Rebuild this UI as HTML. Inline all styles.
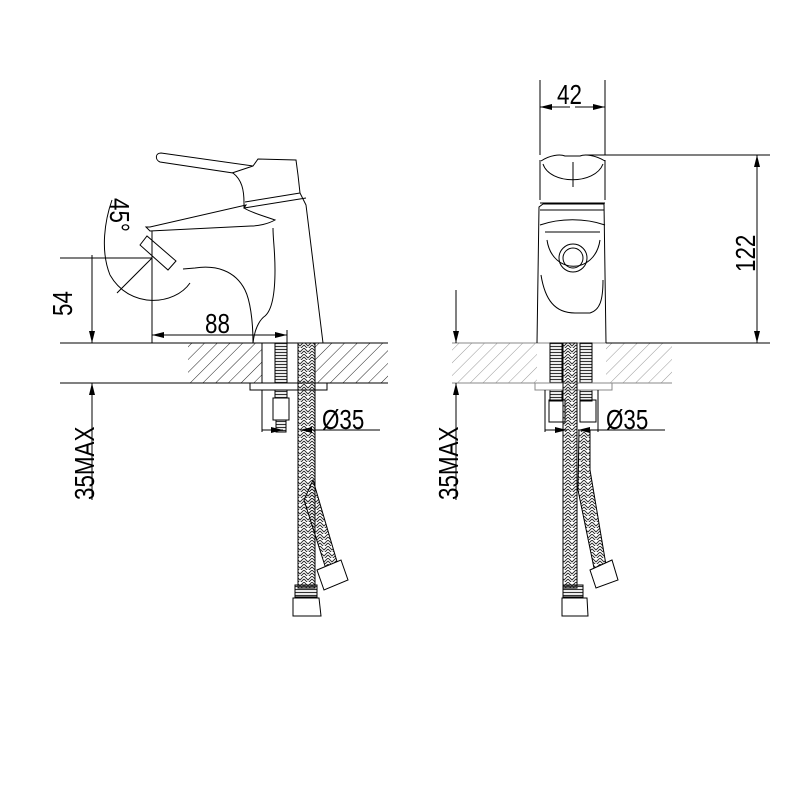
<!DOCTYPE html>
<html><head><style>body{margin:0;background:#fff}svg{display:block}</style></head><body>
<svg width="800" height="800" viewBox="0 0 800 800" xmlns="http://www.w3.org/2000/svg" font-family="Liberation Sans, sans-serif">
<defs>
<pattern id="h" width="9" height="9" patternUnits="userSpaceOnUse" patternTransform="rotate(45)"><line x1="0" y1="0" x2="0" y2="9" stroke="#222" stroke-width="1"/></pattern>
<pattern id="h2" width="9" height="9" patternUnits="userSpaceOnUse" patternTransform="rotate(45)"><line x1="0" y1="0" x2="0" y2="9" stroke="#999" stroke-width="1"/></pattern>
<pattern id="br" width="8" height="6" patternUnits="userSpaceOnUse"><path d="M0 0 L4 4 L8 0 M0 3 L4 7 L8 3" fill="none" stroke="#222" stroke-width="0.9"/></pattern>
<pattern id="th" width="4" height="3" patternUnits="userSpaceOnUse"><line x1="0" y1="1.5" x2="4" y2="1.5" stroke="#333" stroke-width="1.2"/></pattern>
<marker id="a" markerWidth="12" markerHeight="6" refX="12" refY="3" orient="auto" markerUnits="userSpaceOnUse"><path d="M0 0 L12 3 L0 6Z" fill="#000"/></marker>
</defs>
<g stroke="#000" stroke-width="1" fill="none">
<!-- LEFT VIEW counter -->
<rect x="188" y="343" width="74" height="40" fill="url(#h)" stroke="none"/>
<rect x="315" y="343" width="73" height="40" fill="url(#h)" stroke="none"/>
<line x1="60" y1="343" x2="388" y2="343"/>
<line x1="60" y1="383" x2="388" y2="383"/>
<line x1="262" y1="343" x2="262" y2="432"/>
<rect x="275" y="343" width="12" height="55" fill="url(#th)"/>
<rect x="250" y="383" width="77" height="7" fill="#fff"/>
<rect x="273" y="398" width="16" height="22"/>
<rect x="276" y="420" width="10" height="12" fill="url(#th)"/>
<!-- hoses left -->
<rect x="298" y="343" width="17" height="245" fill="url(#br)"/>
<path d="M313 480 L338 565 L326 569 L304 500Z" fill="url(#br)"/>
<rect x="295" y="585" width="22" height="12" fill="url(#th)"/>
<path d="M293 598 L319 598 L321 616 L293 616Z" fill="#fff"/>
<path d="M317 570 L341 560 L348 580 L324 590Z" fill="#fff"/>
<!-- dims left -->
<line x1="92" y1="255" x2="92" y2="343" marker-end="url(#a)"/>
<line x1="92" y1="500" x2="92" y2="383" marker-end="url(#a)"/>
<line x1="60" y1="258" x2="152" y2="258"/>
<line x1="152" y1="258" x2="152" y2="343"/>
<line x1="220" y1="335" x2="152" y2="335" marker-end="url(#a)"/>
<line x1="220" y1="335" x2="287" y2="335" marker-end="url(#a)"/>
<line x1="287" y1="330" x2="287" y2="343"/>
<line x1="262" y1="430" x2="283" y2="430" marker-end="url(#a)"/>
<line x1="380" y1="430" x2="300" y2="430" marker-end="url(#a)"/>
<line x1="315" y1="390" x2="315" y2="432"/>
<!-- faucet left -->
<path d="M253 343 C253 320 250 300 245 290 C235 270 215 265 195 268 L183 269"/>
<path d="M253 343 C255 325 262 318 265 316 C272 310 275 295 275 270 C275 250 273 240 273 228"/>
<path d="M146 227 L150 231 L251 226 C258 226 268 224 275 220 C264 216 252 213 244 208 L246 205 L150 227 Z"/>
<path d="M152 231 L152 258"/>
<path d="M140 245 L147 236 L176 261 L168 270 Z"/>
<path d="M323 343 L306 205 L300 193 L298 175 L296 160 L258 159 L253 166 L161 153 C155 153 155 160 160 162 L233 173 C242 180 244 190 244 203 L244 208 L306 198"/>
<path d="M232 173 L253 166"/>
<path d="M245 202 L300 193"/>
<!-- 45 arc -->
<path d="M112 200 C105 220 100 250 110 275" />
<path d="M110 275 C130 310 175 305 190 283"/>
<line x1="152" y1="258" x2="117" y2="293"/>
<line x1="152" y1="258" x2="152" y2="306"/>
<!-- RIGHT VIEW -->
<rect x="452" y="343" width="85" height="40" fill="url(#h2)" stroke="none"/>
<rect x="606" y="343" width="66" height="40" fill="url(#h2)" stroke="none"/>
<line x1="452" y1="343" x2="672" y2="343" stroke="#888"/>
<line x1="452" y1="383" x2="672" y2="383" stroke="#888"/>
<line x1="606" y1="343" x2="770" y2="343"/>
<rect x="550" y="343" width="12" height="58" fill="url(#th)"/>
<rect x="580" y="343" width="12" height="58" fill="url(#th)"/>
<rect x="535" y="383" width="77" height="7" fill="#fff" stroke="#888"/>
<rect x="549" y="400" width="16" height="22"/>
<rect x="580" y="400" width="16" height="22"/>
<rect x="563" y="343" width="14" height="245" fill="url(#br)"/>
<path d="M579 430 L590 430 L590 470 L606 565 L594 568 L578 490Z" fill="url(#br)"/>
<rect x="563" y="585" width="20" height="12" fill="url(#th)"/>
<path d="M562 598 L587 598 L588 616 L562 616Z" fill="#fff"/>
<path d="M590 570 L612 560 L618 580 L596 588Z" fill="#fff"/>
<line x1="545" y1="390" x2="545" y2="432"/>
<line x1="598" y1="390" x2="598" y2="432"/>
<line x1="545" y1="430" x2="567" y2="430" marker-end="url(#a)"/>
<line x1="665" y1="430" x2="578" y2="430" marker-end="url(#a)"/>
<line x1="456" y1="290" x2="456" y2="343" marker-end="url(#a)"/>
<line x1="456" y1="500" x2="456" y2="383" marker-end="url(#a)"/>
<!-- right faucet -->
<path d="M537 343 L539 207 L543 204 L604 204 L606 343"/>
<path d="M540 160 L540 200 M605 160 L605 200 M540 203 L605 203"/>
<path d="M541 161 C550 155 560 154 565 156 L580 156 C585 154 595 155 605 161"/>
<path d="M543 164 C550 185 595 185 603 164"/>
<line x1="573" y1="162" x2="573" y2="187"/>
<path d="M540 210 L604 210 M540 225 C560 218 585 218 605 225 M545 232 L600 232"/>
<path d="M547 240 C552 275 595 275 600 240"/>
<circle cx="573" cy="258" r="14"/><circle cx="573" cy="258" r="10"/>
<path d="M541 275 C545 300 555 313 575 313 L590 313 C600 310 603 300 603 280"/>
<line x1="540" y1="80" x2="540" y2="155"/>
<line x1="605" y1="80" x2="605" y2="155"/>
<line x1="570" y1="107" x2="540" y2="107" marker-end="url(#a)"/>
<line x1="575" y1="107" x2="605" y2="107" marker-end="url(#a)"/>
<line x1="585" y1="155" x2="770" y2="155"/>
<line x1="757" y1="250" x2="757" y2="155" marker-end="url(#a)"/>
<line x1="757" y1="250" x2="757" y2="343" marker-end="url(#a)"/>
</g>
<g font-size="28" fill="#000">
<text transform="translate(72,316) rotate(-90) scale(0.8,1)">54</text>
<text transform="translate(94,500) rotate(-90) scale(0.8,1)">35MAX</text>
<text transform="translate(458,500) rotate(-90) scale(0.8,1)">35MAX</text>
<text transform="translate(205,333) scale(0.8,1)">88</text>
<text transform="translate(322,429) scale(0.8,1)">Ø35</text>
<text transform="translate(606,429) scale(0.8,1)">Ø35</text>
<text transform="translate(557,104) scale(0.8,1)">42</text>
<text transform="translate(755,272) rotate(-90) scale(0.8,1)">122</text>
<text transform="translate(110,198) rotate(90) scale(0.8,1)">45°</text>
</g>
</svg>
</body></html>
